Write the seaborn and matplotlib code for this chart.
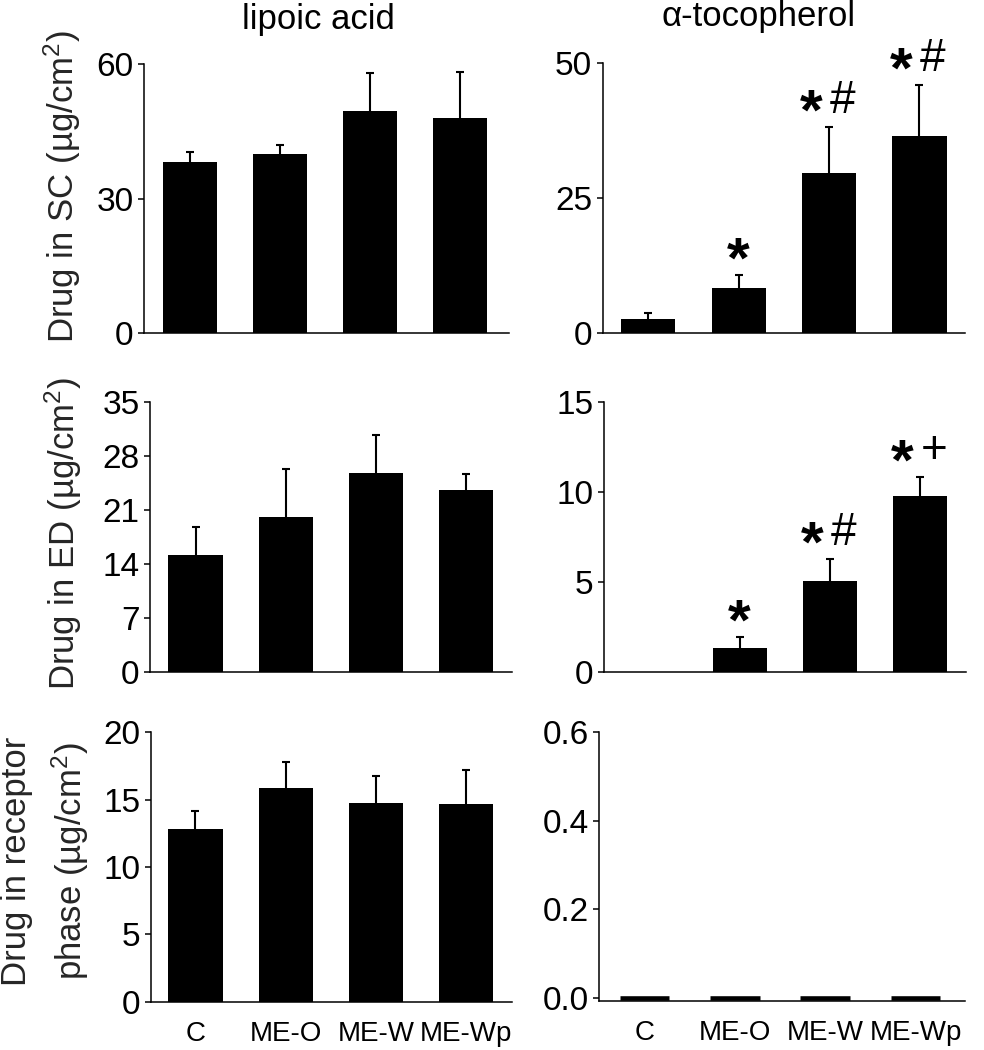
import numpy as np
import pandas as pd
import matplotlib
matplotlib.use("Agg")
import matplotlib.pyplot as plt
import seaborn as sns
from matplotlib.ticker import FormatStrFormatter

# ---------------- data ----------------
groups = ["C", "ME-O", "ME-W", "ME-Wp"]

# lipoic acid (left column)
lipoic_sc_mean = [38.2, 39.9, 49.6, 48.0]
lipoic_sc_sd = [2.1, 2.0, 8.3, 10.3]
lipoic_ed_mean = [15.1, 20.0, 25.8, 23.6]
lipoic_ed_sd = [3.7, 6.3, 4.9, 2.0]
lipoic_rp_mean = [12.8, 15.84, 14.78, 14.65]
lipoic_rp_sd = [1.36, 1.93, 2.0, 2.53]

# alpha-tocopherol (right column)
toco_sc_mean = [2.65, 8.45, 29.7, 36.5]
toco_sc_sd = [1.15, 2.35, 8.5, 9.4]
toco_ed_mean = [0.0, 1.33, 5.02, 9.78]
toco_ed_sd = [0.0, 0.58, 1.22, 1.02]
toco_rp_mean = [0.0, 0.0, 0.0, 0.0]
toco_rp_sd = [0.0, 0.0, 0.0, 0.0]

# significance marks
toco_sc_marks = ["", "*", "*#", "*#"]
toco_ed_marks = ["", "*", "*#", "*+"]
no_marks = ["", "", "", ""]

col_titles = ["lipoic acid", "\u03b1-tocopherol"]
ylabels = ["Drug in SC (\u00b5g/cm$^2$)",
           "Drug in ED (\u00b5g/cm$^2$)",
           "Drug in receptor\nphase (\u00b5g/cm$^2$)"]

# ---------------- style ----------------
sns.set_style("ticks")
plt.rcParams["font.family"] = ["Liberation Sans", "DejaVu Sans"]
plt.rcParams["mathtext.fontset"] = "custom"
plt.rcParams["mathtext.rm"] = "Liberation Sans"
plt.rcParams["mathtext.it"] = "Liberation Sans:italic"
plt.rcParams["mathtext.bf"] = "Liberation Sans:bold"
plt.rcParams["mathtext.default"] = "regular"
plt.rcParams["text.color"] = "black"
plt.rcParams["axes.edgecolor"] = "black"

W, H = 984, 1050
fig = plt.figure(figsize=(W / 100, H / 100), dpi=100)

def add_axes(l, t, r, b):
    return fig.add_axes([l / W, 1 - b / H, (r - l) / W, (b - t) / H])

panels = [
    dict(mean=lipoic_sc_mean, sd=lipoic_sc_sd, marks=no_marks, box=(144, 64, 509, 333.3),
         xlim=(-0.51, 3.545), ylim=(0, 60), yticks=[0, 30, 60], fmt=None,
         ylabel=ylabels[0], lab=(-0.166, 0.543), title=col_titles[0], tx=0.479, tpad=25,
         xlabels=False, lw=0, bw=0.6),
    dict(mean=toco_sc_mean, sd=toco_sc_sd, marks=toco_sc_marks, box=(602.7, 63.3, 965, 333.3),
         xlim=(-0.504, 3.504), ylim=(0, 50), yticks=[0, 25, 50], fmt=None,
         ylabel=None, lab=None, title=col_titles[1], tx=0.429, tpad=26.5,
         xlabels=False, lw=0, bw=0.6),
    dict(mean=lipoic_ed_mean, sd=lipoic_ed_sd, marks=no_marks, box=(150, 401.7, 512, 671.7),
         xlim=(-0.504, 3.505), ylim=(0, 35), yticks=[0, 7, 14, 21, 28, 35], fmt=None,
         ylabel=ylabels[1], lab=(-0.183, 0.513), title=None, tx=None, tpad=None,
         xlabels=False, lw=0, bw=0.6),
    dict(mean=toco_ed_mean, sd=toco_ed_sd, marks=toco_ed_marks, box=(604, 401.7, 966, 671.7),
         xlim=(-0.504, 3.507), ylim=(0, 15), yticks=[0, 5, 10, 15], fmt=None,
         ylabel=None, lab=None, title=None, tx=None, tpad=None,
         xlabels=False, lw=0, bw=0.6),
    dict(mean=lipoic_rp_mean, sd=lipoic_rp_sd, marks=no_marks, box=(150.7, 732.3, 512, 1001.7),
         xlim=(-0.496, 3.505), ylim=(0, 20), yticks=[0, 5, 10, 15, 20], fmt=None,
         ylabel=ylabels[2], lab=(-0.165, 0.522), title=None, tx=None, tpad=None,
         xlabels=True, lw=0, bw=0.6),
    dict(mean=toco_rp_mean, sd=toco_rp_sd, marks=no_marks, box=(599, 732.3, 965, 1000.5),
         xlim=(-0.504, 3.548), ylim=(-0.006, 0.6), yticks=[0.0, 0.2, 0.4, 0.6], fmt="%.1f",
         ylabel=None, lab=None, title=None, tx=None, tpad=None,
         xlabels=True, lw=3.3, bw=0.55),
]

TICK_FS = 24
LABEL_FS = 25
TITLE_FS = 25
XT_FS = 20
GAP_PX = 30  # distance from error-bar top to mark centre
STAR_FS, SYM_FS = 42, 33

for p in panels:
    ax = add_axes(*p["box"])
    df = pd.DataFrame({"group": groups, "value": p["mean"]})
    sns.barplot(data=df, x="group", y="value", order=groups, color="black",
                saturation=1, width=p["bw"], errorbar=None, ax=ax,
                edgecolor="black", linewidth=p["lw"])
    x = np.arange(len(groups))
    mean = np.asarray(p["mean"], float)
    sd = np.asarray(p["sd"], float)
    m = sd > 0
    if m.any():
        eb = ax.errorbar(x[m], mean[m], yerr=[np.zeros(m.sum()), sd[m]], fmt="none",
                         ecolor="black", elinewidth=1.5, capsize=2.8, capthick=1.5,
                         zorder=3)
        # keep only the upper caps (one-sided SD bars)
        for cap in eb[1]:
            if np.allclose(cap.get_ydata(), mean[m]):
                cap.set_visible(False)

    # significance marks
    for i, mk in enumerate(p["marks"]):
        if not mk:
            continue
        top = mean[i] + sd[i]
        if len(mk) == 1:
            syms = [(mk, 0.0)]
        else:
            syms = [(mk[0], -0.2), (mk[1], 0.15)]
        for s, dx in syms:
            if s == "*":
                fs, fw, below = STAR_FS, "bold", 0.55 * STAR_FS / 0.72
            else:
                fs, fw, below = SYM_FS, "normal", 0.35 * SYM_FS / 0.72
            off_px = GAP_PX - below
            ax.annotate(s, xy=(i + dx, top), xytext=(0, off_px * 0.72),
                        textcoords="offset points", ha="center", va="baseline",
                        fontsize=fs, fontweight=fw, color="black")

    ax.set_xlim(*p["xlim"])
    ax.set_ylim(*p["ylim"])
    ax.set_yticks(p["yticks"])
    if p["fmt"]:
        ax.yaxis.set_major_formatter(FormatStrFormatter(p["fmt"]))
    ax.set_xlabel("")
    ax.set_ylabel("")
    sns.despine(ax=ax)
    for side in ("left", "bottom"):
        ax.spines[side].set_linewidth(1.1)
        ax.spines[side].set_color("black")
    ax.tick_params(axis="y", length=4, width=1.1, labelsize=TICK_FS, pad=3.5,
                   colors="black")
    ax.tick_params(axis="x", length=0, labelsize=XT_FS, pad=14, colors="black",
                   labelbottom=p["xlabels"])
    if p["ylabel"]:
        ax.set_ylabel(p["ylabel"], fontsize=LABEL_FS, linespacing=1.5)
        ax.yaxis.set_label_coords(*p["lab"])
    if p["title"]:
        ax.set_title(p["title"], fontsize=TITLE_FS, x=p["tx"], pad=p["tpad"])

fig.savefig("out.png", dpi=100)
